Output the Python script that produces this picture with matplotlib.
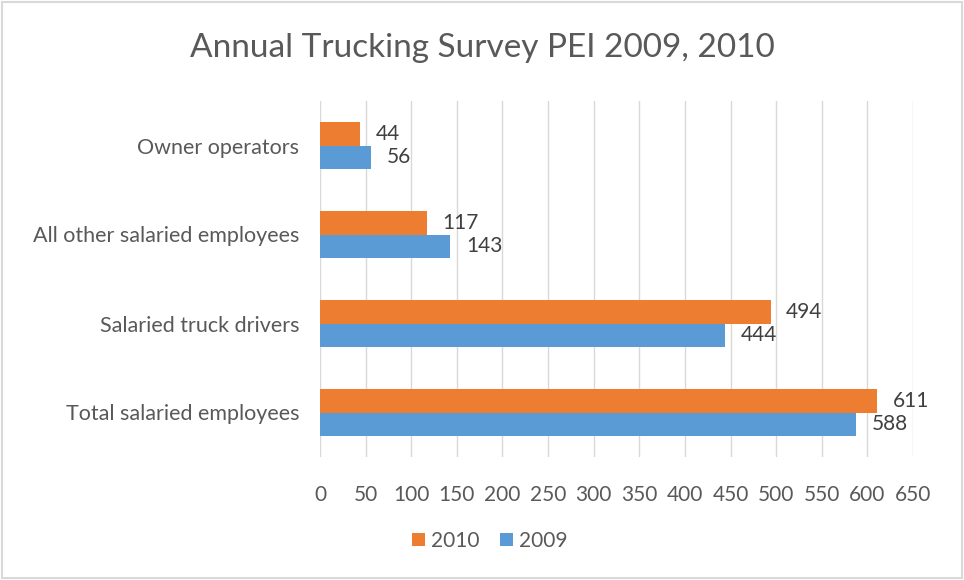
import matplotlib
matplotlib.use("Agg")
import matplotlib.pyplot as plt
import numpy as np
from matplotlib.patches import Rectangle

categories = ["Total salaried employees", "Salaried truck drivers",
              "All other salaried employees", "Owner operators"]
values_2010 = [611, 494, 117, 44]
values_2009 = [588, 444, 143, 56]
xticks = list(range(0, 651, 50))

plt.rcParams['font.family'] = ['Lato', 'DejaVu Sans']
text_color = '#595959'
c2010 = '#ED7D31'
c2009 = '#5B9BD5'

fig = plt.figure(figsize=(9.64, 5.8), dpi=100)
ax = fig.add_axes([320/964, 1-457/580, (913-320)/964, (457-101)/580])

y = np.arange(len(categories))
h = 0.26
b1 = ax.barh(y + h/2, values_2010, height=h, color=c2010, label='2010', zorder=3)
b2 = ax.barh(y - h/2, values_2009, height=h, color=c2009, label='2009', zorder=3)

for bars, vals in ((b1, values_2010), (b2, values_2009)):
    for rect, v in zip(bars, vals):
        ax.text(v + 17, rect.get_y() + rect.get_height()/2, str(v),
                va='center', ha='left', fontsize=15, color='#404040')

ax.set_xlim(0, 650)
ax.set_ylim(-0.5, len(categories) - 0.5)
ax.set_xticks(xticks)
ax.set_xticklabels([str(t) for t in xticks])
ax.set_yticks(y)
ax.set_yticklabels(categories)
ax.tick_params(axis='x', length=0, pad=20, labelsize=15, labelcolor=text_color)
ax.tick_params(axis='y', length=0, pad=15, labelsize=15.5, labelcolor=text_color)
ax.grid(axis='x', color='#D9D9D9', linewidth=1, zorder=0)
for s in ax.spines.values():
    s.set_visible(False)

fig.suptitle("Annual Trucking Survey PEI 2009, 2010", y=1-48/580, va='center',
             fontsize=24, color=text_color)

leg = fig.legend(handles=[b1, b2], labels=['2010', '2009'], loc='center',
                 bbox_to_anchor=(490/964, 1-541/580), ncol=2, frameon=False,
                 fontsize=15, handlelength=0.6, handleheight=0.6,
                 handletextpad=0.3, columnspacing=1.0)
for t in leg.get_texts():
    t.set_color(text_color)

fig.patches.append(Rectangle((2/964, 2/580), 960/964, 576/580, transform=fig.transFigure,
                             fill=False, edgecolor='#D9D9D9', linewidth=1.5))

fig.savefig("out.png", dpi=100)
